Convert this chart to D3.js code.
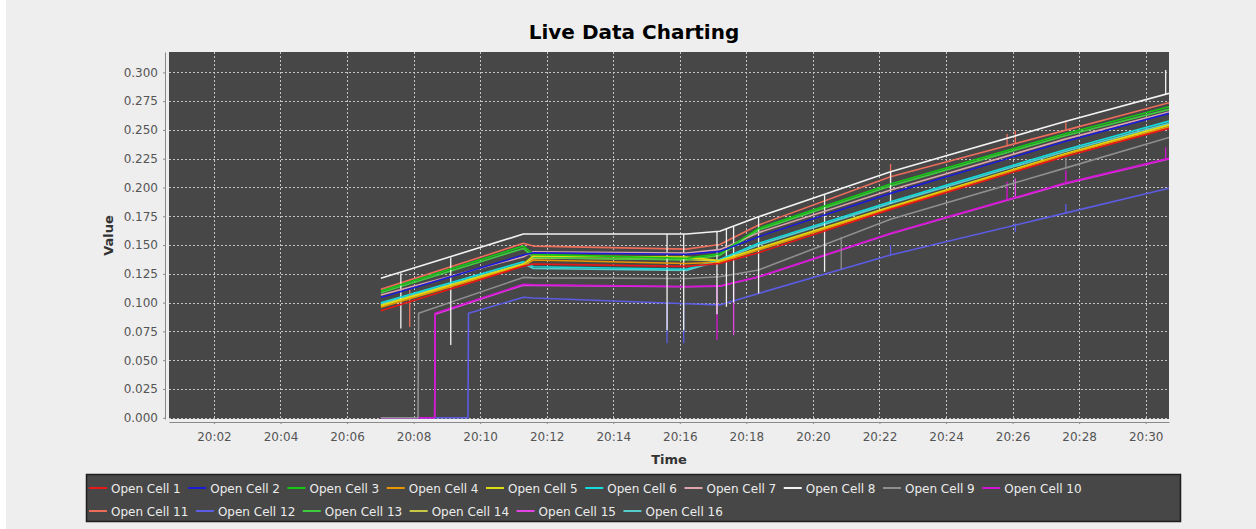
<!DOCTYPE html>
<html>
<head>
<meta charset="utf-8">
<script src="https://cdn.jsdelivr.net/npm/d3@7"></script>
<style>
	body { margin: 0; background: #ffffff; }
	svg { display: block; font-family: "DejaVu Sans", sans-serif; }
</style>
</head>
<body>
<svg id="chart" width="1256" height="529"></svg>
<script>

// breakpoints (null = series has no point there)
const times = ["20:07:01", "20:08:08", "20:08:09", "20:08:38", "20:08:39", "20:09:38", "20:09:39",
	"20:11:18", "20:11:36", "20:16:12", "20:17:12", "20:18:22", "20:22:20", "20:27:33", "20:30:42"];

const cell1  = [0.0929, null, null, null, null, null, null, 0.1317, 0.1335, 0.1315, 0.1340, 0.1434, 0.1810, 0.2267, 0.2514];
const cell2  = [0.1045, null, null, null, null, null, null, 0.1413, 0.1433, 0.1420, 0.1445, 0.1573, 0.1949, 0.2397, 0.2644];
const cell3  = [0.1101, null, null, null, null, null, null, 0.1491, 0.1419, 0.1385, 0.1425, 0.1645, 0.2030, 0.2464, 0.2701];
const cell4  = [0.0959, null, null, null, null, null, null, 0.1323, 0.1370, 0.1340, 0.1350, 0.1457, 0.1819, 0.2282, 0.2525];
const cell5  = [0.0976, null, null, null, null, null, null, 0.1335, 0.1405, 0.1395, 0.1365, 0.1472, 0.1833, 0.2290, 0.2545];
const cell6  = [0.0999, null, null, null, null, null, null, 0.1355, 0.1312, 0.1290, 0.1375, 0.1515, 0.1876, 0.2325, 0.2577];
const cell7  = [0.1066, null, null, null, null, null, null, 0.1399, 0.1442, 0.1430, 0.1460, 0.1608, 0.1978, 0.2418, 0.2655];
const cell8  = [0.1211, null, null, null, null, null, null, 0.1596, 0.1596, 0.1596, 0.1620, 0.1746, 0.2137, 0.2571, 0.2818];
const cell9  = [0, 0, 0.0907, null, null, null, null, 0.1219, 0.1215, 0.1210, 0.1225, 0.1283, 0.1725, 0.2166, 0.2435];
const cell10 = [0, null, null, 0, 0.0907, null, null, 0.1159, 0.1155, 0.1140, 0.1145, 0.1225, 0.1602, 0.2036, 0.2253];
const cell11 = [0.1115, null, null, null, null, null, null, 0.1515, 0.1491, 0.1465, 0.1505, 0.1674, 0.2093, 0.2494, 0.2736];
const cell12 = [0, null, null, null, null, 0, 0.0907, 0.1046, 0.1040, 0.0990, 0.0980, 0.1080, 0.1413, 0.1775, 0.1993];
const cell13 = [0.1086, null, null, null, null, null, null, 0.1471, 0.1393, 0.1370, 0.1410, 0.1631, 0.2013, 0.2447, 0.2679];
const cell14 = [0.0970, null, null, null, null, null, null, 0.1329, 0.1387, 0.1375, 0.1360, 0.1465, 0.1826, 0.2286, 0.2540];
const cell15 = [0, null, null, 0, 0.0900, null, null, 0.1152, 0.1150, 0.1138, 0.1142, 0.1222, 0.1598, 0.2030, 0.2248];
const cell16 = [0.0987, null, null, null, null, null, null, 0.1340, 0.1296, 0.1280, 0.1365, 0.1501, 0.1862, 0.2310, 0.2557];

// short glitches: [cell number, time, value before, spike value]
const spikes = [
	[8, "20:07:37", 0.1254, 0.0776], [11, "20:07:53", 0.1119, 0.0789], [8, "20:09:07", 0.1391, 0.0631],
	[8, "20:15:37", 0.1596, 0.0760], [12, "20:15:37", 0.0990, 0.0646], [8, "20:16:07", 0.1596, 0.0760],
	[12, "20:16:07", 0.0990, 0.0646], [8, "20:17:07", 0.1620, 0.0900], [10, "20:17:07", 0.1144, 0.0676],
	[8, "20:17:24", 0.1640, 0.0964], [8, "20:17:37", 0.1660, 0.1000], [15, "20:17:37", 0.1150, 0.0718],
	[8, "20:18:22", 0.1746, 0.1080], [8, "20:20:21", 0.1934, 0.1267], [9, "20:20:51", 0.1570, 0.1290],
	[11, "20:22:20", 0.2093, 0.2204], [8, "20:22:20", 0.2137, 0.1862], [12, "20:22:20", 0.1413, 0.1500],
	[11, "20:25:50", 0.2362, 0.2464], [10, "20:25:50", 0.1893, 0.2050], [11, "20:26:05", 0.2381, 0.2494],
	[15, "20:26:05", 0.1910, 0.2079], [12, "20:26:05", 0.1613, 0.1689], [11, "20:27:36", 0.2494, 0.2583],
	[10, "20:27:36", 0.2036, 0.2149], [12, "20:27:36", 0.1775, 0.1856], [9, "20:27:36", 0.2166, 0.2260],
	[8, "20:30:36", 0.2810, 0.3020], [10, "20:30:36", 0.2250, 0.2349]
];

const cellNames = ["Open Cell 1", "Open Cell 2", "Open Cell 3", "Open Cell 4", "Open Cell 5", "Open Cell 6",
	"Open Cell 7", "Open Cell 8", "Open Cell 9", "Open Cell 10", "Open Cell 11", "Open Cell 12",
	"Open Cell 13", "Open Cell 14", "Open Cell 15", "Open Cell 16"];
const cellValues = [cell1, cell2, cell3, cell4, cell5, cell6, cell7, cell8,
	cell9, cell10, cell11, cell12, cell13, cell14, cell15, cell16];

const xTickLabels = ["20:02", "20:04", "20:06", "20:08", "20:10", "20:12", "20:14", "20:16",
	"20:18", "20:20", "20:22", "20:24", "20:26", "20:28", "20:30"];
const yTickValues = [0, 0.025, 0.05, 0.075, 0.1, 0.125, 0.15, 0.175, 0.2, 0.225, 0.25, 0.275, 0.3];

const colors = ["#e81818", "#1c1cd8", "#14c814", "#e89600", "#dcdc10", "#14dcdc", "#dca4ac", "#f2f2f2",
	"#8e8e8e", "#d414d4", "#ec6c5a", "#5c5ce4", "#40cc40", "#c8c844", "#e444e4", "#58cccc"];

var svg = d3.select("#chart");

svg.append("rect")
	.attr("x", 6).attr("y", 0)
	.attr("width", 1250).attr("height", 529)
	.attr("fill", "#eeeeee");

var parseTime = d3.timeParse("%H:%M:%S");
var parseTick = d3.timeParse("%H:%M");

var plot = { left: 169, right: 1169, top: 52, bottom: 419 };

var x = d3.scaleTime()
	.domain([parseTime("20:00:39"), parseTime("20:30:42")])
	.range([plot.left, plot.right]);

var y = d3.scaleLinear()
	.domain([-0.0011, 0.3177])
	.range([plot.bottom, plot.top]);

// title
svg.append("text")
	.attr("x", 634).attr("y", 39)
	.attr("text-anchor", "middle")
	.attr("font-size", 20)
	.attr("font-weight", "bold")
	.attr("fill", "#000")
	.text("Live Data Charting");

// plot background + grid
svg.append("rect")
	.attr("x", plot.left).attr("y", plot.top)
	.attr("width", plot.right - plot.left).attr("height", plot.bottom - plot.top)
	.attr("fill", "#474747");

var grid = svg.append("g")
	.attr("stroke", "#c4c4c4")
	.attr("stroke-width", 1)
	.attr("stroke-dasharray", "2,2");

grid.selectAll("line.h")
	.data(yTickValues)
	.enter()
	.append("line")
	.attr("class", "h")
	.attr("x1", plot.left).attr("x2", plot.right)
	.attr("y1", d => Math.round(y(d)) + 0.5)
	.attr("y2", d => Math.round(y(d)) + 0.5);

grid.selectAll("line.v")
	.data(xTickLabels.map(parseTick))
	.enter()
	.append("line")
	.attr("class", "v")
	.attr("y1", plot.top).attr("y2", plot.bottom)
	.attr("x1", d => Math.round(x(d)) + 0.5)
	.attr("x2", d => Math.round(x(d)) + 0.5);

// series
svg.append("clipPath")
	.attr("id", "plotClip")
	.append("rect")
	.attr("x", plot.left).attr("y", plot.top)
	.attr("width", plot.right - plot.left).attr("height", plot.bottom - plot.top);

var line = d3.line()
	.x(d => x(d[0]))
	.y(d => y(d[1]));

var seriesLayer = svg.append("g").attr("clip-path", "url(#plotClip)");

// JFreeChart paints the first series last, so it ends up on top
d3.range(cellValues.length).reverse().forEach(function(i) {

	var points = [];
	cellValues[i].forEach(function(v, k) {
		if (v !== null) { points.push([parseTime(times[k]), v]); }
	});

	seriesLayer.append("path")
		.datum(points)
		.attr("fill", "none")
		.attr("stroke", colors[i])
		.attr("stroke-width", 1.6)
		.attr("stroke-linejoin", "round")
		.attr("d", line);

	seriesLayer.selectAll("line.spike" + i)
		.data(spikes.filter(s => s[0] === i + 1))
		.enter()
		.append("line")
		.attr("class", "spike" + i)
		.attr("stroke", colors[i])
		.attr("stroke-width", 1.3)
		.attr("x1", d => x(parseTime(d[1])))
		.attr("x2", d => x(parseTime(d[1])))
		.attr("y1", d => y(d[2]))
		.attr("y2", d => y(d[3]));
});

// axes
var yAxis = svg.append("g")
	.attr("transform", "translate(165,0)")
	.call(d3.axisLeft(y)
		.tickValues(yTickValues)
		.tickFormat(d3.format(".3f"))
		.tickSize(2)
		.tickSizeOuter(0)
		.tickPadding(5));

var xAxis = svg.append("g")
	.attr("transform", "translate(0,422)")
	.call(d3.axisBottom(x)
		.tickValues(xTickLabels.map(parseTick))
		.tickFormat(d3.timeFormat("%H:%M"))
		.tickSize(2)
		.tickSizeOuter(0)
		.tickPadding(8));

[xAxis, yAxis].forEach(function(axis) {
	axis.attr("font-family", "DejaVu Sans, sans-serif").attr("font-size", 12);
	axis.select(".domain").attr("stroke", "#8a8a8a");
	axis.selectAll(".tick line").attr("stroke", "#8a8a8a");
	axis.selectAll(".tick text").attr("fill", "#555555");
});

svg.append("text")
	.attr("x", (plot.left + plot.right) / 2).attr("y", 464)
	.attr("text-anchor", "middle")
	.attr("font-size", 13)
	.attr("font-weight", "bold")
	.attr("fill", "#333")
	.text("Time");

svg.append("text")
	.attr("transform", "translate(113," + (plot.top + plot.bottom) / 2 + ") rotate(-90)")
	.attr("text-anchor", "middle")
	.attr("font-size", 13)
	.attr("font-weight", "bold")
	.attr("fill", "#333")
	.text("Value");

// legend
svg.append("rect")
	.attr("x", 86.5).attr("y", 474.5)
	.attr("width", 1094).attr("height", 47)
	.attr("fill", "#474747")
	.attr("stroke", "#1e1e1e")
	.attr("stroke-width", 1.5);

var legend = svg.append("g")
	.attr("font-size", 12)
	.attr("fill", "#ececec");

var lx = 89, ly = 488;
cellNames.forEach(function(name, i) {

	if (i === 10) { lx = 89; ly = 511; }

	legend.append("line")
		.attr("x1", lx).attr("x2", lx + 18)
		.attr("y1", ly).attr("y2", ly)
		.attr("stroke", colors[i])
		.attr("stroke-width", 2);

	var label = legend.append("text")
		.attr("x", lx + 22).attr("y", ly + 4.5)
		.text(name);

	lx += 22 + label.node().getComputedTextLength() + 7.5;
});

</script>
</body>
</html>
